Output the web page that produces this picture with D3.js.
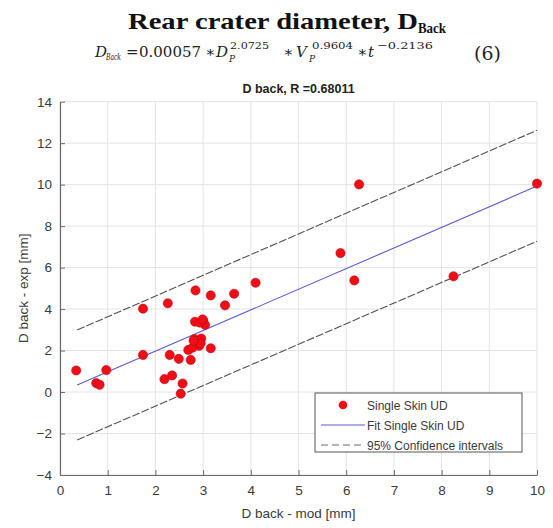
<!DOCTYPE html>
<html><head><meta charset="utf-8">
<script src="https://cdn.jsdelivr.net/npm/d3@7"></script>
<style>body{margin:0;background:#fff}svg{display:block}</style>
</head><body>
<svg id="c" width="553" height="528"></svg>
<script>
// ---- data ----
const modX = [5.88,6.17,8.25,4.10,2.84,3.16,3.65,3.46,2.26,1.74,2.83,3.00,3.04,2.93,1.74,2.30,2.49,2.74,2.69,2.82,2.96,2.85,2.92,2.78,3.16,2.87,0.34,0.97,0.76,0.83,2.19,2.35,2.57,2.53,6.27,10.0,2.90,2.95,2.80,2.99];
const expY = [6.70,5.38,5.58,5.27,4.90,4.66,4.74,4.18,4.28,4.02,3.39,3.46,3.24,3.35,1.79,1.79,1.60,1.55,2.03,2.55,2.58,2.31,2.23,2.14,2.11,2.38,1.04,1.06,0.43,0.35,0.62,0.80,0.41,-0.08,10.01,10.05,2.45,2.35,2.48,3.50];
const lineX = [0.36, 10.0];
const fitY = [0.34, 9.93];
const upperY = [2.99, 12.62];
const lowerY = [-2.31, 7.27];
const xTicks = [0,1,2,3,4,5,6,7,8,9,10];
const yTicks = [-4,-2,0,2,4,6,8,10,12,14];
const legendLabels = ["Single Skin UD","Fit Single Skin UD","95% Confidence intervals"];

const svg = d3.select("#c");
const L = 60, R = 537, T = 101.7, B = 475;
const x = d3.scaleLinear().domain([0,10]).range([L,R]);
const y = d3.scaleLinear().domain([-4,14]).range([B,T]);
const sans = "Arial, 'Liberation Sans', Helvetica, sans-serif";
const axisCol = "#6a6a6a", txtCol = "#3a3a3a";

// ---- titles ----
const serif = "'Liberation Serif','Times New Roman',serif";
svg.append("text").attr("x",128).attr("y",29).attr("font-family",serif).attr("font-weight","bold")
  .attr("font-size",23).attr("fill","#111").attr("textLength",290).attr("lengthAdjust","spacingAndGlyphs")
  .text("Rear crater diameter, D");
svg.append("text").attr("x",418).attr("y",33).attr("font-family",serif).attr("font-weight","bold")
  .attr("font-size",15.5).attr("fill","#111").attr("textLength",28).attr("lengthAdjust","spacingAndGlyphs")
  .text("Back");

// equation, pieces placed at fixed positions
const eq = svg.append("g").attr("font-family","'DejaVu Serif',serif").attr("fill","#222");
const base = 57;
function piece(px, t, size, dy, italic, len) {
  const el = eq.append("text").attr("x", px).attr("y", base + dy).attr("font-size", size)
    .attr("font-style", italic ? "italic" : "normal").text(t);
  if (len) el.attr("textLength", len).attr("lengthAdjust","spacingAndGlyphs");
}
piece(95,"D",15,0,true);  piece(106,"Back",8.5,3,true,15);
piece(126,"=",15,0,false); piece(139,"0.00057",15,0,false,62);
piece(205,"∗",15,0,false);
piece(216,"D",15,0,true); piece(229,"P",9,5,true); piece(230,"2.0725",10,-8,false,39);
piece(283,"∗",15,0,false);
piece(296,"V",15,0,true); piece(309,"P",9,5,true); piece(312,"0.9604",10,-8,false,41);
piece(357,"∗",15,0,false);
piece(368,"t",15,0,true); piece(377,"−0.2136",10,-8,false,56);
svg.append("text").attr("x",474).attr("y",60).attr("font-family","'DejaVu Serif',serif")
  .attr("font-size",19).attr("fill","#222").text("(6)");

svg.append("text").attr("x",(L+R)/2).attr("y",92.5).attr("text-anchor","middle")
  .attr("font-family",sans).attr("font-weight","bold").attr("font-size",12.5).attr("fill","#222")
  .text("D back, R =0.68011");

// ---- grid ----
const grid = svg.append("g").attr("stroke","#e3e3e3").attr("stroke-width",1);
xTicks.forEach(t => grid.append("line").attr("x1",x(t)).attr("x2",x(t)).attr("y1",T).attr("y2",B));
yTicks.forEach(t => grid.append("line").attr("x1",L).attr("x2",R).attr("y1",y(t)).attr("y2",y(t)));

// ---- axes ----
const xa = svg.append("g").attr("transform",`translate(0,${B})`)
  .call(d3.axisBottom(x).tickValues(xTicks).tickSizeInner(-5).tickSizeOuter(0).tickPadding(10));
const ya = svg.append("g").attr("transform",`translate(${L},0)`)
  .call(d3.axisLeft(y).tickValues(yTicks).tickSizeInner(-5).tickSizeOuter(0).tickPadding(8));
[xa,ya].forEach(a => {
  a.select(".domain").attr("stroke",axisCol).attr("stroke-width",1.2);
  a.selectAll(".tick line").attr("stroke",axisCol);
  a.selectAll(".tick text").attr("font-family",sans).attr("font-size",13.5).attr("fill",txtCol);
});

svg.append("text").attr("x",(L+R)/2).attr("y",518).attr("text-anchor","middle")
  .attr("font-family",sans).attr("font-size",13.5).attr("fill",txtCol).text("D back - mod [mm]");
svg.append("text").attr("transform",`translate(28,${(T+B)/2}) rotate(-90)`).attr("text-anchor","middle")
  .attr("font-family",sans).attr("font-size",13.5).attr("fill",txtCol).text("D back - exp [mm]");

// ---- lines ----
const mk = ys => d3.line().x((d,i)=>x(lineX[i])).y(d=>y(d))(ys);
svg.append("path").attr("d",mk(upperY)).attr("fill","none").attr("stroke","#505050").attr("stroke-width",1.1).attr("stroke-dasharray","8,2");
svg.append("path").attr("d",mk(lowerY)).attr("fill","none").attr("stroke","#505050").attr("stroke-width",1.1).attr("stroke-dasharray","8,2");
svg.append("path").attr("d",mk(fitY)).attr("fill","none").attr("stroke","#5a5ad0").attr("stroke-width",1.1);

// ---- points ----
svg.append("g").selectAll("circle").data(modX).join("circle")
  .attr("cx",d=>x(d)).attr("cy",(d,i)=>y(expY[i])).attr("r",4.6)
  .attr("fill","#ee0e16").attr("stroke","#c80010").attr("stroke-width",0.6);

// ---- legend ----
const lg = svg.append("g");
lg.append("rect").attr("x",315).attr("y",393).attr("width",207).attr("height",59)
  .attr("fill","#fff").attr("stroke","#555").attr("stroke-width",1);
const rows = [405, 425, 445];
lg.append("circle").attr("cx",343).attr("cy",rows[0]).attr("r",4.3).attr("fill","#ee0e16");
lg.append("line").attr("x1",321).attr("x2",365).attr("y1",rows[1]).attr("y2",rows[1]).attr("stroke","#5a5ad0").attr("stroke-width",1.1);
lg.append("line").attr("x1",321).attr("x2",365).attr("y1",rows[2]).attr("y2",rows[2]).attr("stroke","#6a6a6a").attr("stroke-width",1.1).attr("stroke-dasharray","7,4");
legendLabels.forEach((t,i)=> lg.append("text").attr("x",367).attr("y",rows[i]+4.5)
  .attr("font-family",sans).attr("font-size",12).attr("fill",txtCol).text(t));
</script>
</body></html>
